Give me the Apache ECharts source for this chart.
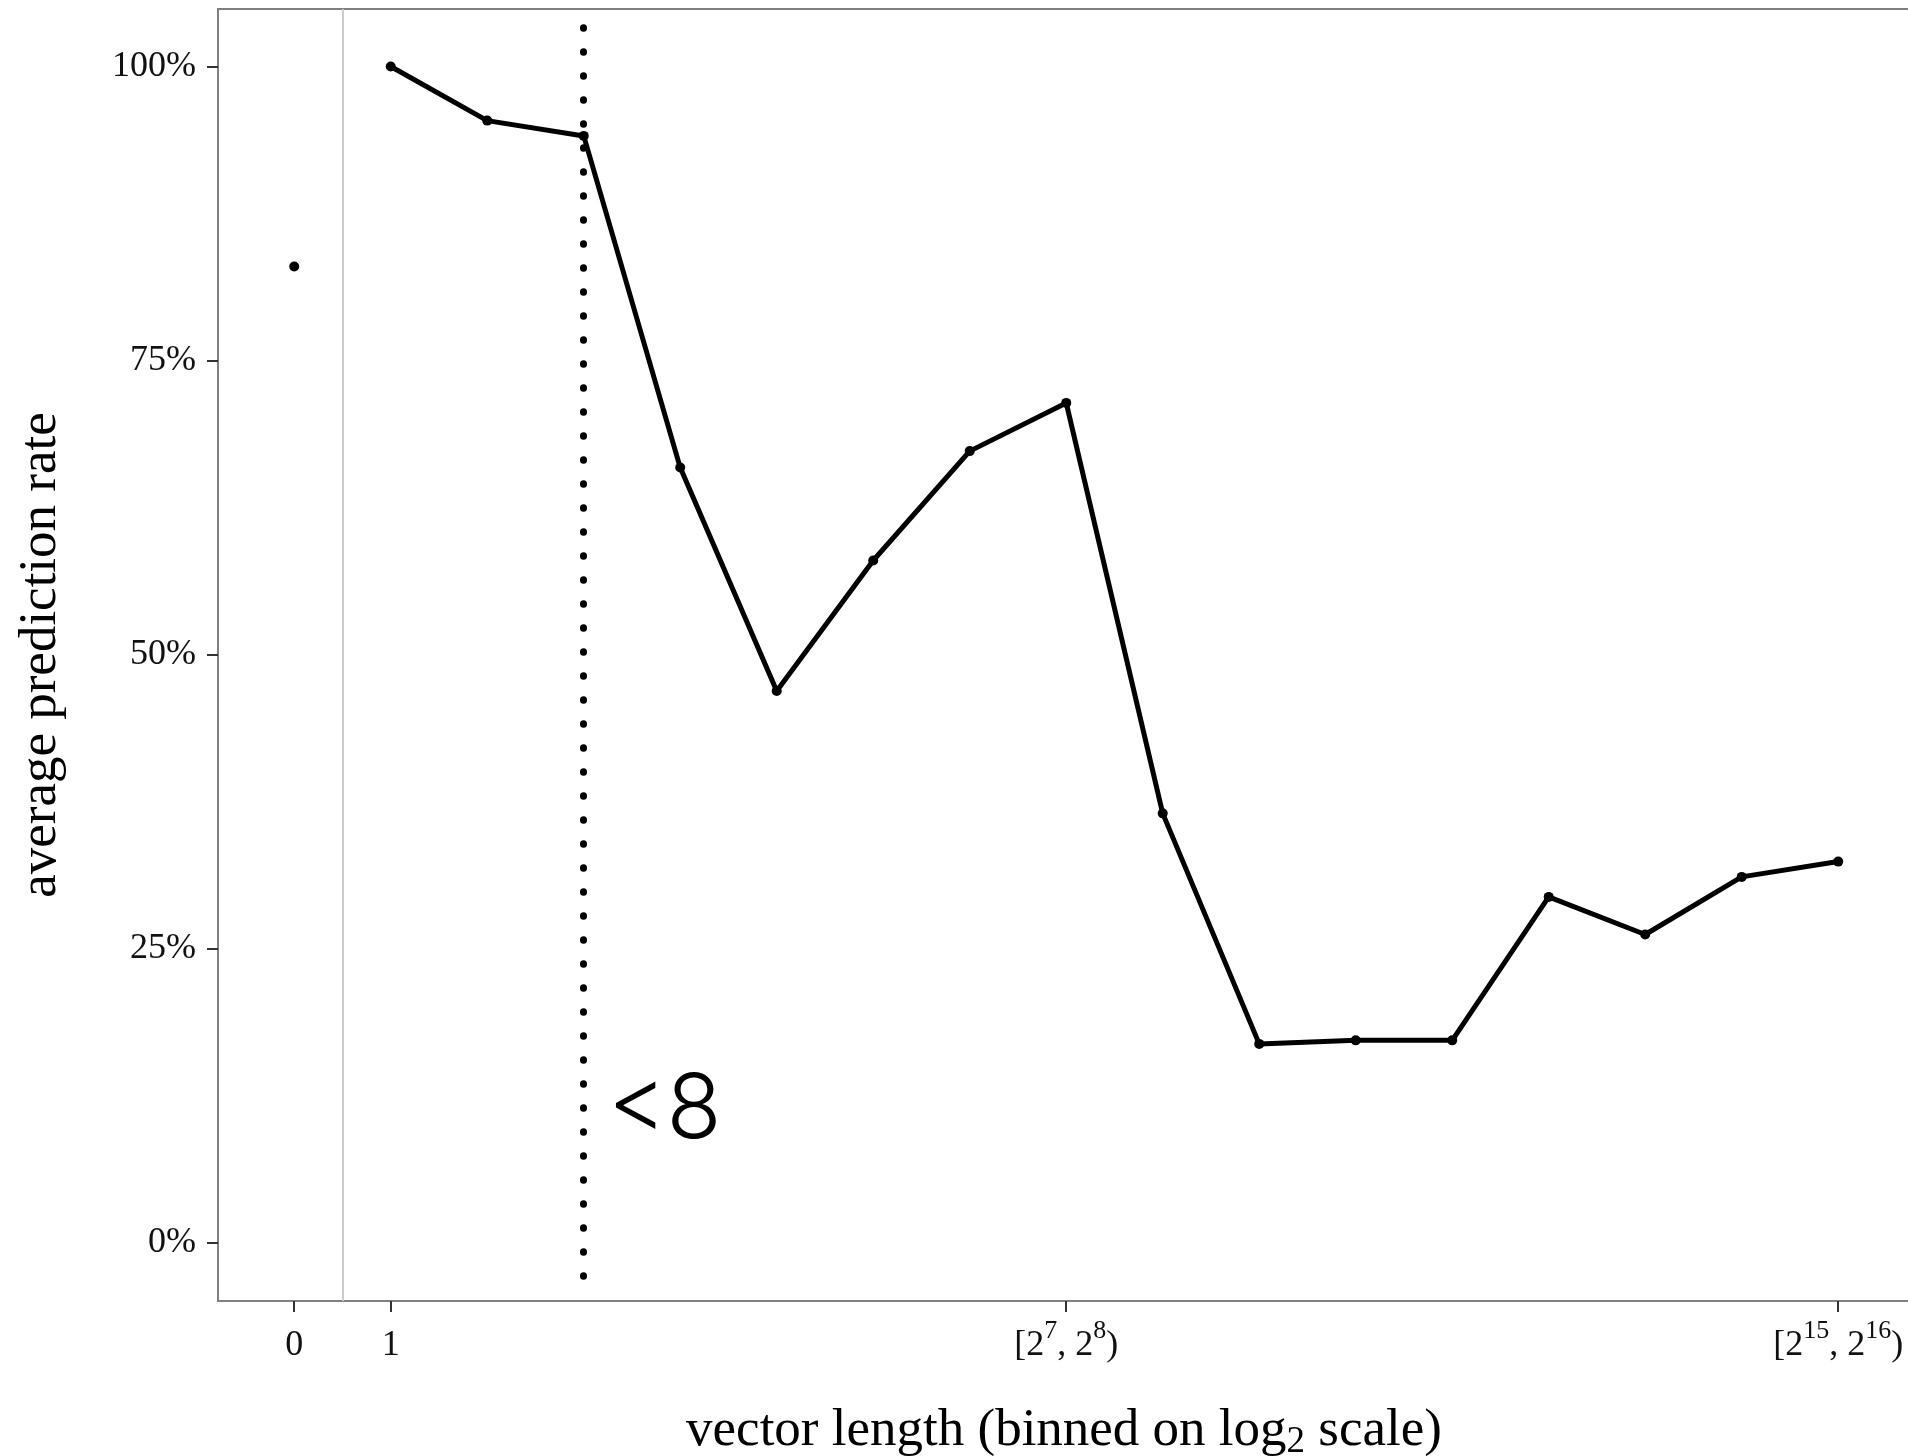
<!DOCTYPE html>
<html><head><meta charset="utf-8">
<script src="https://cdn.jsdelivr.net/npm/echarts@6/dist/echarts.min.js"></script>
<style>html,body{margin:0;padding:0;background:#fff}#c{width:1908px;height:1456px}</style>
</head><body><div id="c"></div>
<script>
// ---- data ----
const categories = ['0', '1', '[2^1, 2^2)', '[2^2, 2^3)', '[2^3, 2^4)', '[2^4, 2^5)', '[2^5, 2^6)', '[2^6, 2^7)',
  '[2^7, 2^8)', '[2^8, 2^9)', '[2^9, 2^10)', '[2^10, 2^11)', '[2^11, 2^12)', '[2^12, 2^13)', '[2^13, 2^14)',
  '[2^14, 2^15)', '[2^15, 2^16)'];
const rates = [83.0, 100.0, 95.4, 94.1, 65.9, 46.9, 58.0, 67.3, 71.4, 36.5, 16.9, 17.2, 17.2, 29.4, 26.2, 31.1, 32.4];
const labeledCategories = ['0', '1', '[2^7, 2^8)', '[2^15, 2^16)'];
const yTicks = [0, 25, 50, 75, 100];
const cutoffCategory = '[2^2, 2^3)';
const cutoffSpan = [103.3, -2.85];
const cutoffLabel = '<8';
const cutoffLabelY = 11.2;
const separatorPos = 0.5; // boundary between '0' and '1'

// ---- build ----
const idx = c => categories.indexOf(c);
const lineData = [];
rates.forEach((v, i) => { if (i >= 1) lineData.push([i, v]); });
const zeroData = [[0, rates[0]]];
const labeledIdx = labeledCategories.map(idx);
const cutX = idx(cutoffCategory);

function richCat(s) {
  return '{n|' + s.replace(/\^(\d+)/g, '}{s|$1}{n|') + '}';
}

const serif = 'Liberation Serif';
const chart = echarts.init(document.getElementById('c'), null, {renderer: 'canvas'});
chart.setOption({
  animation: false,
  backgroundColor: '#ffffff',
  grid: {
    left: 218, top: 9, right: -2, bottom: 155,
    show: true, borderColor: '#808080', borderWidth: 2, backgroundColor: 'transparent',
    containLabel: false, outerBoundsMode: 'none'
  },
  xAxis: {
    type: 'value', min: -0.79, max: 16.744,
    axisLine: {show: false, onZero: false},
    splitLine: {show: false},
    axisTick: {show: true, customValues: labeledIdx, length: 11, lineStyle: {color: '#333', width: 2}},
    axisLabel: {
      show: true, customValues: labeledIdx, margin: 17,
      formatter: v => richCat(categories[Math.round(v)]),
      rich: {
        n: {fontFamily: serif, fontSize: 36, color: '#111', lineHeight: 56},
        s: {fontFamily: serif, fontSize: 26, color: '#111', lineHeight: 25, verticalAlign: 'top'}
      }
    },
    name: '{t|vector length (binned on log}{b|2}{t| scale)}',
    nameLocation: 'middle', nameGap: 100,
    nameTextStyle: {
      rich: {
        t: {fontFamily: serif, fontSize: 53, color: '#000', lineHeight: 60},
        b: {fontFamily: serif, fontSize: 37, color: '#000', lineHeight: 40, verticalAlign: 'bottom'}
      }
    }
  },
  yAxis: {
    type: 'value', min: -4.96, max: 104.89,
    axisLine: {show: false, onZero: false},
    splitLine: {show: false},
    axisTick: {show: true, customValues: yTicks, length: 11, lineStyle: {color: '#333', width: 2}},
    axisLabel: {
      show: true, customValues: yTicks, margin: 22,
      formatter: v => Math.round(v) + '%',
      fontFamily: serif, fontSize: 36, color: '#111'
    },
    name: 'average prediction rate',
    nameLocation: 'middle', nameGap: 150, nameRotate: 90,
    nameTextStyle: {fontFamily: serif, fontSize: 53, color: '#000'}
  },
  series: [
    {
      type: 'scatter', data: zeroData, symbol: 'circle', symbolSize: 10,
      itemStyle: {color: '#000', opacity: 1}, silent: true, z: 3,
      markLine: {
        silent: true, symbol: 'none', animation: false,
        label: {show: false},
        lineStyle: {color: '#cccccc', width: 2, type: 'solid', opacity: 1},
        data: [{xAxis: separatorPos}]
      }
    },
    {
      type: 'line', data: lineData, symbol: 'circle', symbolSize: 10, showSymbol: true,
      lineStyle: {color: '#000', width: 5}, itemStyle: {color: '#000', opacity: 1}, silent: true, z: 3,
      markLine: {
        silent: true, symbol: 'none', animation: false,
        label: {show: false},
        lineStyle: {color: '#000', width: 7, type: [0.5, 23.5], cap: 'round', opacity: 1},
        data: [[{coord: [cutX, cutoffSpan[0]]}, {coord: [cutX, cutoffSpan[1]]}]]
      }
    },
    {
      type: 'scatter', data: [[cutX, cutoffLabelY]], symbolSize: 0, silent: true,
      itemStyle: {opacity: 1},
      label: {
        show: true, position: 'right', distance: 24, formatter: cutoffLabel, opacity: 1,
        fontFamily: 'Inter', fontWeight: 300, fontSize: 90, color: '#000'
      }
    }
  ]
});
</script></body></html>
